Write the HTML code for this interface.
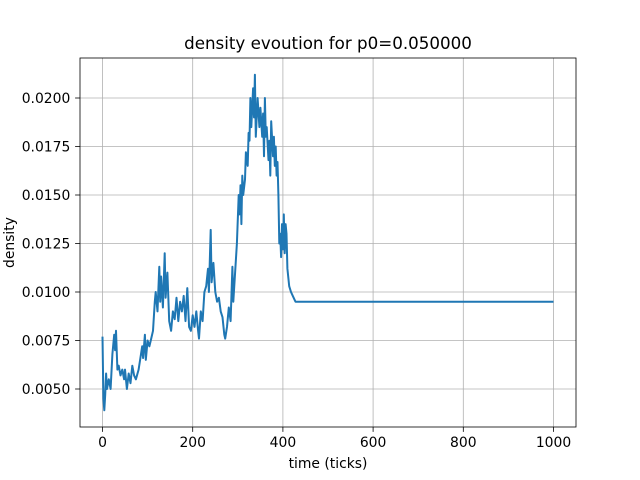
<!DOCTYPE html>
<html><head><meta charset="utf-8"><style>body{margin:0;background:#fff}svg{display:block;font-family:"DejaVu Sans","Liberation Sans",sans-serif}</style></head>
<body>
<svg id="c" width="640" height="480"></svg>
<script>
const times=[0,2,4,6,8,10,14,18,22,26,28,30,33,36,40,44,48,50,54,58,62,66,70,74,80,84,88,90,94,96,100,104,108,112,116,118,122,126,128,130,134,138,140,144,148,152,156,160,164,168,172,176,180,184,188,192,196,200,204,208,212,214,218,222,226,230,234,236,240,242,246,250,254,258,262,266,270,272,276,280,284,288,290,294,298,302,304,306,308,310,312,316,318,322,324,326,328,330,334,336,338,340,344,348,350,354,356,358,360,362,364,368,370,372,374,378,380,382,384,386,388,390,392,394,396,398,400,402,404,406,408,410,414,418,422,426,428,1000];
const density=[0.0077,0.0045,0.0039,0.0047,0.0058,0.0050,0.0055,0.0050,0.0068,0.0078,0.0070,0.0080,0.0060,0.0062,0.0057,0.0060,0.0055,0.0060,0.0050,0.0058,0.0053,0.0062,0.0057,0.0055,0.0060,0.0066,0.0072,0.0066,0.0078,0.0065,0.0075,0.0072,0.0076,0.0080,0.0095,0.0100,0.0090,0.0113,0.0095,0.0108,0.0092,0.0120,0.0097,0.0110,0.0085,0.0080,0.0090,0.0086,0.0097,0.0085,0.0095,0.0090,0.0098,0.0085,0.0102,0.0082,0.0080,0.0088,0.0082,0.0090,0.0080,0.0076,0.0090,0.0085,0.0100,0.0103,0.0112,0.0100,0.0132,0.0105,0.0115,0.0100,0.0095,0.0097,0.0090,0.0087,0.0078,0.0076,0.0082,0.0092,0.0085,0.0113,0.0095,0.0110,0.0125,0.0150,0.0140,0.0155,0.0135,0.0160,0.0150,0.0158,0.0172,0.0165,0.0182,0.0178,0.0200,0.0185,0.0205,0.0190,0.0212,0.0180,0.0200,0.0185,0.0195,0.0180,0.0192,0.0170,0.0200,0.0180,0.0185,0.0168,0.0178,0.0160,0.0188,0.0170,0.0180,0.0165,0.0175,0.0160,0.0167,0.0150,0.0125,0.0130,0.0118,0.0135,0.0122,0.0140,0.0120,0.0135,0.0130,0.0112,0.0103,0.0100,0.0098,0.0096,0.0095,0.0095];
const xTicks=[0,200,400,600,800,1000];
const yTicks=[0.005,0.0075,0.01,0.0125,0.015,0.0175,0.02];
const yLabels=["0.0050","0.0075","0.0100","0.0125","0.0150","0.0175","0.0200"];

const L=80,R=576,T=58,B=427;
const X=t=>102.5+t*0.451;
const Y=d=>389-(d-0.005)*19400;
const svg=document.getElementById('c');
const NS='http://www.w3.org/2000/svg';
function mk(tag,at,parent){const e=document.createElementNS(NS,tag);for(const k in at)e.setAttribute(k,at[k]);(parent||svg).appendChild(e);return e;}

const grid=mk('g',{});


xTicks.forEach(t=>{
 const l=mk('line',{x1:X(t),x2:X(t),y1:T,y2:B,stroke:'#b0b0b0','stroke-width':0.8},grid);
 
 
 const tk=mk('line',{x1:X(t),x2:X(t),y1:B,y2:B+4.9,stroke:'#000','stroke-width':0.8});
 
 
 const tx=mk('text',{x:X(t),y:B+20,'text-anchor':'middle','font-size':13.9});
 tx.textContent=t;
 
 
});
yTicks.forEach((v,i)=>{
 const l=mk('line',{x1:L,x2:R,y1:Y(v),y2:Y(v),stroke:'#b0b0b0','stroke-width':0.8},grid);
 
 
 const tk=mk('line',{x1:L-4.9,x2:L,y1:Y(v),y2:Y(v),stroke:'#000','stroke-width':0.8});
 
 
 const tx=mk('text',{x:L-9.7,y:Y(v)+5,'text-anchor':'end','font-size':13.9});
 tx.textContent=yLabels[i];
 
 
});
const pts=times.map((t,i)=>X(t).toFixed(1)+','+Y(density[i]).toFixed(1)).join(' ');
const line=mk('polyline',{points:pts,fill:'none',stroke:'#1f77b4','stroke-width':2,'stroke-linejoin':'round'});


const frame=mk('rect',{x:L,y:T,width:R-L,height:B-T,fill:'none',stroke:'#000','stroke-width':0.8});


const title=mk('text',{x:(L+R)/2,y:49,'text-anchor':'middle','font-size':16.7});
title.textContent='density evoution for p0=0.050000';


const xl=mk('text',{x:(L+R)/2,y:468,'text-anchor':'middle','font-size':13.9});
xl.textContent='time (ticks)';


const yl=mk('text',{x:14,y:(T+B)/2,'text-anchor':'middle','font-size':13.9,transform:'rotate(-90 14 '+((T+B)/2)+')'});
yl.textContent='density';


</script>
</body></html>
